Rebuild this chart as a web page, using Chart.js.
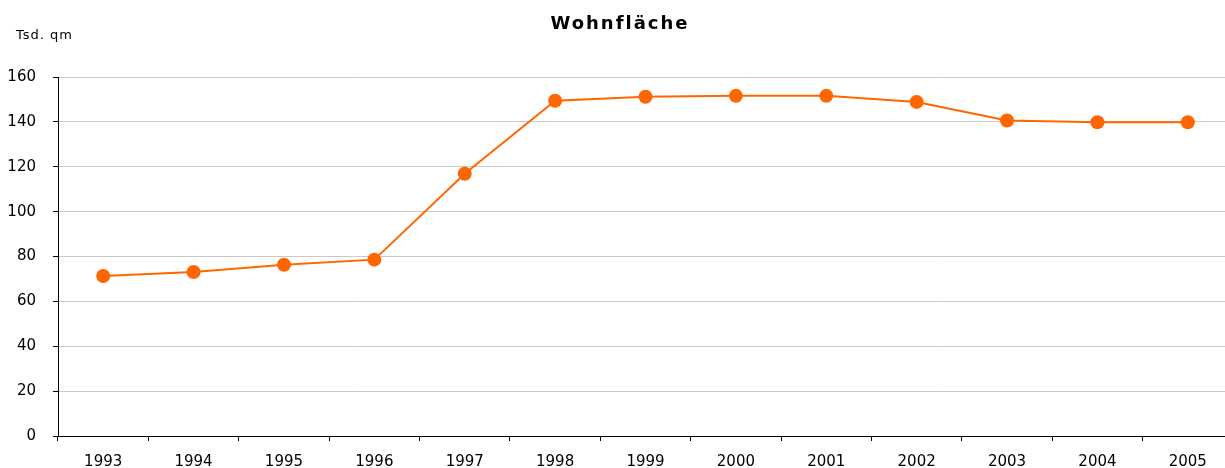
<!DOCTYPE html>
<html>
<head>
<meta charset="utf-8">
<script src="https://cdn.jsdelivr.net/npm/chart.js@4/dist/chart.umd.min.js"></script>
<style>
  html, body { margin: 0; padding: 0; background: #fff; overflow: hidden; }
  #wrap { position: relative; width: 1225px; height: 468px; overflow: hidden; }
  #box { position: absolute; left: 0; top: 0; width: 1240px; height: 468px; }
  #title { position: absolute; left: 0; width: 1240px; top: 12px; text-align: center;
           font: bold 18px "DejaVu Sans", sans-serif; letter-spacing: 2px; color: #000; }
  #unit { position: absolute; left: 16px; top: 27px; font: 13px "DejaVu Sans", sans-serif;
          letter-spacing: 1px; color: #000; }
</style>
</head>
<body>
<div id="wrap">
  <div id="box"><canvas id="myChart"></canvas></div>
  <div id="title">Wohnfläche</div>
  <div id="unit">Tsd. qm</div>
</div>
<script>
const years = ['1993', '1994', '1995', '1996', '1997', '1998', '1999', '2000', '2001', '2002', '2003', '2004', '2005'];
const wohnflaeche = [71.3, 73.1, 76.3, 78.6, 116.9, 149.4, 151.2, 151.6, 151.6, 148.9, 140.6, 139.8, 139.8];
const yTicks = [0, 20, 40, 60, 80, 100, 120, 140, 160];

const ctx = document.getElementById('myChart').getContext('2d');

const myChart = new Chart(ctx, {
    type: 'line',
    data: {
        labels: years,
        datasets: [{
            label: 'Wohnfläche',
            data: wohnflaeche,
            borderColor: '#ff6600',
            backgroundColor: '#ff6600',
            borderWidth: 2,
            pointRadius: 7,
            pointHoverRadius: 7,
            pointBackgroundColor: '#ff6600',
            pointBorderWidth: 0,
            tension: 0
        }]
    },
    options: {
        responsive: true,
        maintainAspectRatio: false,
        animation: false,
        layout: { padding: { top: 77, right: 0, left: 0, bottom: 0 } },
        plugins: {
            legend: { display: false },
            tooltip: { enabled: false }
        },
        scales: {
            x: {
                offset: true,
                afterFit: function (scale) { scale.height = 32; },
                border: { display: true, color: '#000', width: 1 },
                grid: {
                    offset: true,
                    drawOnChartArea: false,
                    drawTicks: true,
                    tickLength: 5,
                    tickColor: '#000'
                },
                ticks: {
                    color: '#000',
                    padding: 12,
                    maxRotation: 0,
                    font: { family: 'DejaVu Sans', size: 15 }
                }
            },
            y: {
                min: 0,
                max: 160,
                afterFit: function (scale) { scale.width = 58; },
                afterBuildTicks: function (scale) {
                    scale.ticks = yTicks.map(v => ({ value: v }));
                },
                border: { display: true, color: '#000', width: 1 },
                grid: {
                    color: '#c8c8c8',
                    tickLength: 5,
                    tickColor: '#000'
                },
                ticks: {
                    color: '#000',
                    padding: 17,
                    font: { family: 'DejaVu Sans', size: 15 }
                }
            }
        }
    }
});
</script>
</body>
</html>
